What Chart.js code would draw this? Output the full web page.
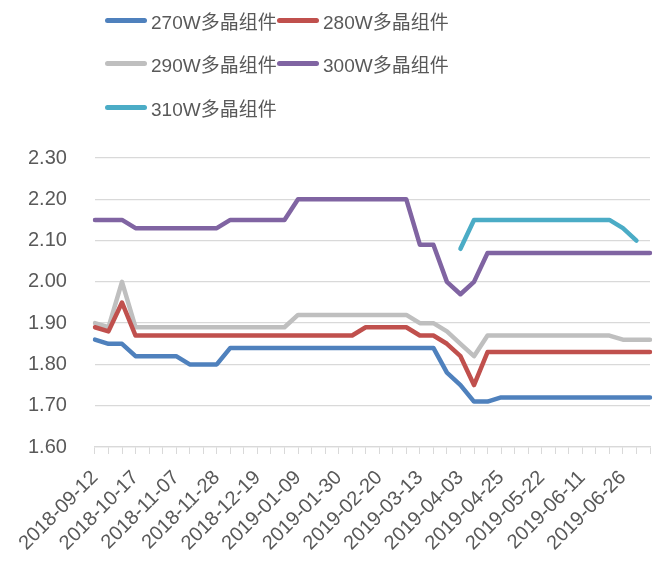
<!DOCTYPE html>
<html>
<head>
<meta charset="utf-8">
<script src="https://cdn.jsdelivr.net/npm/chart.js@4.4.1/dist/chart.umd.min.js"></script>
<style>
    body { margin: 0; background: #fff; }
    #wrap { position: relative; width: 660px; height: 561px; }
    #legend {
        position: absolute; left: 105px; top: 0; width: 360px;
        display: grid; grid-template-columns: 172px 172px; grid-auto-rows: 43.5px;
        font-family: 'Liberation Sans', 'Noto Sans CJK SC', sans-serif;
        font-size: 19px; color: #595959;
    }
    .item { display: flex; align-items: center; height: 40px; white-space: nowrap; }
    .swatch { width: 42px; height: 5px; border-radius: 3px; margin-right: 4px; }
</style>
</head>
<body>
<div id="wrap">
    <div id="legend"></div>
    <canvas id="priceChart" width="660" height="561"></canvas>
</div>
<script>
// Dates (every third one shown on the axis)
const dates = [
    '2018-09-12', '2018-09-19', '2018-09-26', '2018-10-17', '2018-10-24', '2018-10-31',
    '2018-11-07', '2018-11-14', '2018-11-21', '2018-11-28', '2018-12-05', '2018-12-12',
    '2018-12-19', '2018-12-26', '2019-01-02', '2019-01-09', '2019-01-16', '2019-01-23',
    '2019-01-30', '2019-02-01', '2019-02-13', '2019-02-20', '2019-02-27', '2019-03-06',
    '2019-03-13', '2019-03-20', '2019-03-27', '2019-04-03', '2019-04-10', '2019-04-17',
    '2019-04-25', '2019-05-08', '2019-05-15', '2019-05-22', '2019-05-29', '2019-06-05',
    '2019-06-11', '2019-06-14', '2019-06-19', '2019-06-26', '2019-07-03', '2019-07-10'
];

const names = ['270W多晶组件', '280W多晶组件', '290W多晶组件', '300W多晶组件', '310W多晶组件'];
const colors = ['#4F81BD', '#C0504D', '#BFBFBF', '#8064A2', '#4BACC6'];

const w270 = [1.86, 1.85, 1.85, 1.82, 1.82, 1.82, 1.82, 1.80, 1.80, 1.80,
    1.84, 1.84, 1.84, 1.84, 1.84, 1.84, 1.84, 1.84, 1.84, 1.84, 1.84, 1.84, 1.84, 1.84, 1.84, 1.84,
    1.78, 1.75, 1.71, 1.71,
    1.72, 1.72, 1.72, 1.72, 1.72, 1.72, 1.72, 1.72, 1.72, 1.72, 1.72, 1.72];
const w280 = [1.89, 1.88, 1.95,
    1.87, 1.87, 1.87, 1.87, 1.87, 1.87, 1.87, 1.87, 1.87, 1.87, 1.87, 1.87, 1.87, 1.87, 1.87, 1.87, 1.87,
    1.89, 1.89, 1.89, 1.89,
    1.87, 1.87, 1.85, 1.82, 1.75,
    1.83, 1.83, 1.83, 1.83, 1.83, 1.83, 1.83, 1.83, 1.83, 1.83, 1.83, 1.83, 1.83];
const w290 = [1.90, 1.89, 2.00,
    1.89, 1.89, 1.89, 1.89, 1.89, 1.89, 1.89, 1.89, 1.89, 1.89, 1.89, 1.89,
    1.92, 1.92, 1.92, 1.92, 1.92, 1.92, 1.92, 1.92, 1.92,
    1.90, 1.90, 1.88, 1.85, 1.82,
    1.87, 1.87, 1.87, 1.87, 1.87, 1.87, 1.87, 1.87, 1.87, 1.87,
    1.86, 1.86, 1.86];
const w300 = [2.15, 2.15, 2.15,
    2.13, 2.13, 2.13, 2.13, 2.13, 2.13, 2.13,
    2.15, 2.15, 2.15, 2.15, 2.15,
    2.20, 2.20, 2.20, 2.20, 2.20, 2.20, 2.20, 2.20, 2.20,
    2.09, 2.09, 2.00, 1.97, 2.00,
    2.07, 2.07, 2.07, 2.07, 2.07, 2.07, 2.07, 2.07, 2.07, 2.07, 2.07, 2.07, 2.07];
const w310 = [null, null, null, null, null, null, null, null, null, null,
    null, null, null, null, null, null, null, null, null, null,
    null, null, null, null, null, null, null,
    2.08, 2.15, 2.15, 2.15, 2.15, 2.15, 2.15, 2.15, 2.15, 2.15, 2.15, 2.15, 2.13, 2.10];

const yTicks = [1.6, 1.7, 1.8, 1.9, 2.0, 2.1, 2.2, 2.3];

const series = [w270, w280, w290, w300, w310];

// html legend, two items per row
const legendEl = document.getElementById('legend');
names.forEach((n, i) => {
    const item = document.createElement('div');
    item.className = 'item';
    item.innerHTML = '<span class="swatch" style="background:' + colors[i] + '"></span><span>' + n + '</span>';
    legendEl.appendChild(item);
});

const tickFont = { family: "'Liberation Sans', 'Noto Sans CJK SC', sans-serif", size: 20 };

const ctx = document.getElementById('priceChart').getContext('2d');
const priceChart = new Chart(ctx, {
    type: 'line',
    data: {
        labels: dates,
        datasets: series.map((d, i) => ({
            label: names[i],
            data: d,
            borderColor: colors[i],
            backgroundColor: colors[i],
            borderWidth: 4.5,
            pointRadius: 0,
            tension: 0,
            borderJoinStyle: 'round',
            borderCapStyle: 'round',
            spanGaps: false
        }))
    },
    options: {
        responsive: false,
        animation: false,
        layout: {
            padding: { top: 158, left: 0, right: 0, bottom: 0 }
        },
        plugins: {
            legend: { display: false },
            tooltip: { enabled: false }
        },
        scales: {
            y: {
                min: 1.6,
                max: 2.3,
                afterBuildTicks: (axis) => {
                    axis.ticks = yTicks.map(v => ({ value: v }));
                },
                ticks: {
                    color: '#595959',
                    font: tickFont,
                    padding: 28,
                    callback: (v) => Number(v).toFixed(2)
                },
                grid: {
                    color: '#D9D9D9',
                    lineWidth: 1.3,
                    drawTicks: false
                },
                border: { display: false }
            },
            x: {
                // keep the rotated labels from pushing the plot inwards
                afterFit: (scale) => {
                    scale.paddingLeft = 0;
                    scale.paddingRight = 10;
                    scale.height = 114;
                },
                ticks: {
                    color: '#595959',
                    font: tickFont,
                    autoSkip: false,
                    maxRotation: 45,
                    minRotation: 45,
                    padding: 12,
                    callback: function (v, i) {
                        return i % 3 === 0 ? this.getLabelForValue(v) : '';
                    }
                },
                grid: {
                    drawOnChartArea: false,
                    drawTicks: true,
                    tickLength: 7,
                    color: '#D9D9D9'
                },
                border: { color: '#D9D9D9', width: 1.3 }
            }
        }
    }
});
</script>
</body>
</html>
